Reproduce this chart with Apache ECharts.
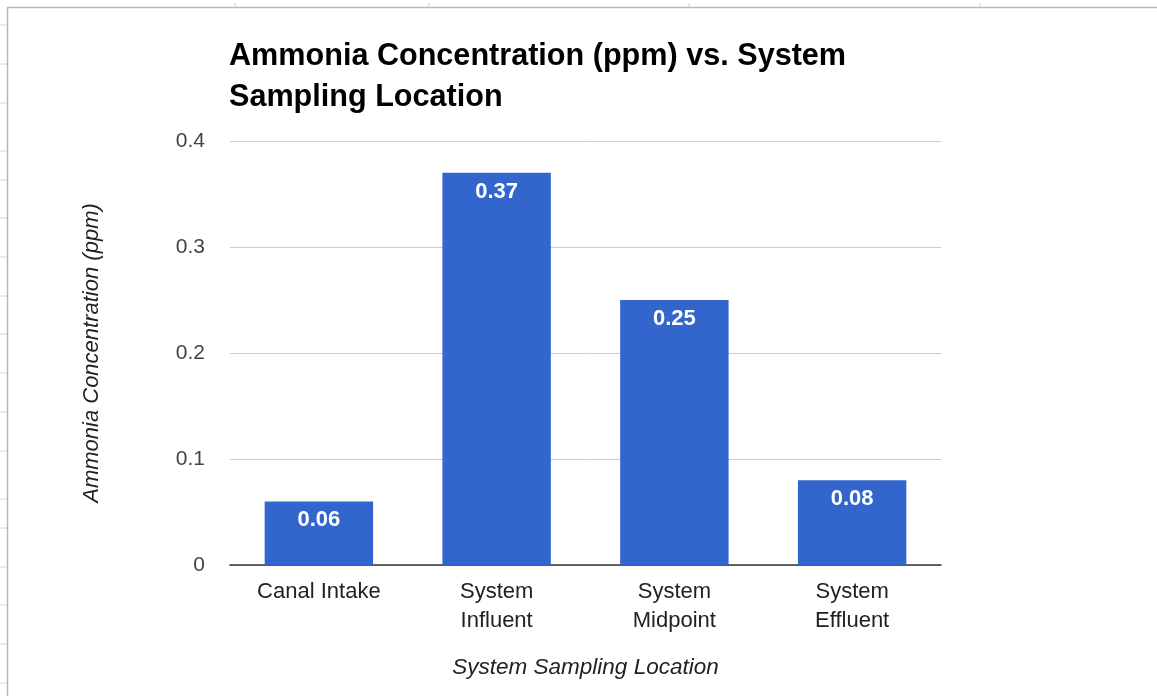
<!DOCTYPE html>
<html>
<head>
<meta charset="utf-8">
<script src="https://cdn.jsdelivr.net/npm/echarts@6/dist/echarts.min.js"></script>
<style>
    html, body { margin: 0; padding: 0; background: #fff; }
    #chart { width: 1157px; height: 696px; }
</style>
</head>
<body>
<div id="chart"></div>
<script>
// 数据
const categories = ['Canal Intake', 'System\nInfluent', 'System\nMidpoint', 'System\nEffluent']
const ammonia = [0.06, 0.37, 0.25, 0.08]
const yTicks = [0, 0.1, 0.2, 0.3, 0.4]

// 表格背景的刻度线位置
const sideRows = [25, 64, 103, 151, 180, 218, 257, 296, 334, 373, 412, 451, 499, 528, 567, 605, 644, 683]
const topCols = [235, 429, 689, 980]

const sheetLines = []
sideRows.forEach(y => {
    sheetLines.push({ type: 'line', shape: { x1: 0, y1: y, x2: 7, y2: y }, style: { stroke: '#d4d4d4', lineWidth: 1 } })
})
topCols.forEach(x => {
    sheetLines.push({ type: 'line', shape: { x1: x, y1: 3, x2: x, y2: 7 }, style: { stroke: '#d4d4d4', lineWidth: 1 } })
})
sheetLines.push({ type: 'polyline', shape: { points: [[7.5, 696], [7.5, 7.5], [1157, 7.5]] }, style: { stroke: '#b8b8b8', fill: null, lineWidth: 1.5 } })

const chartDom = echarts.init(document.getElementById('chart'))
chartDom.setOption({
    animation: false,
    backgroundColor: '#fff',
    textStyle: { fontFamily: 'Liberation Sans, Arial, sans-serif' },
    graphic: sheetLines,
    title: {
        text: 'Ammonia Concentration (ppm) vs. System\nSampling Location',
        left: 224,
        top: 31,
        textStyle: { fontSize: 30.6, fontWeight: 'bold', color: '#000', lineHeight: 41 }
    },
    grid: { left: 230, right: 216, top: 141, bottom: 131 },
    xAxis: {
        type: 'category',
        data: categories,
        name: 'System Sampling Location',
        nameLocation: 'middle',
        nameGap: 91,
        nameTextStyle: { fontSize: 22.5, fontStyle: 'italic', color: '#222' },
        axisLine: { lineStyle: { color: '#333', width: 1.5 } },
        axisTick: { show: false },
        axisLabel: { fontSize: 22, color: '#222', lineHeight: 29, margin: 12 }
    },
    yAxis: {
        type: 'value',
        min: yTicks[0],
        max: yTicks[yTicks.length - 1],
        interval: 0.1,
        name: 'Ammonia Concentration (ppm)',
        nameLocation: 'middle',
        nameGap: 127,
        nameTextStyle: { fontSize: 22, fontStyle: 'italic', color: '#222' },
        axisLine: { show: false },
        axisTick: { show: false },
        axisLabel: { fontSize: 21, color: '#444', margin: 25 },
        splitLine: { lineStyle: { color: '#cccccc', width: 1 } }
    },
    series: [
        {
            name: 'Ammonia',
            type: 'bar',
            data: ammonia,
            barWidth: '61%',
            itemStyle: { color: '#3366cc' },
            label: {
                show: true,
                position: 'insideTop',
                distance: 8,
                color: '#fff',
                fontSize: 22,
                fontWeight: 'bold'
            }
        }
    ]
})
</script>
</body>
</html>
